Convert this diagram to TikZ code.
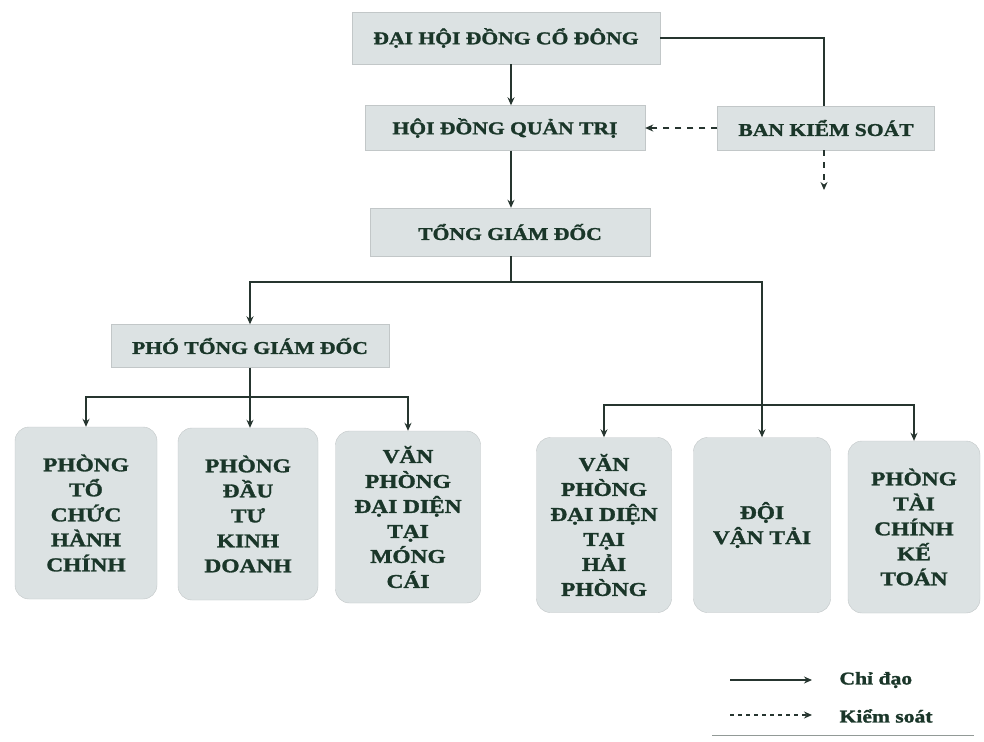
\documentclass[tikz,border=0pt]{standalone}
\usepackage{fontspec}
\setmainfont{Liberation Serif}[FakeStretch=1.2, BoldFeatures={FakeBold=1.5}]
\usetikzlibrary{arrows.meta,calc}
\definecolor{txt}{HTML}{1A3629}
\definecolor{boxfill}{HTML}{DCE2E3}
\definecolor{ln}{HTML}{26352F}
\tikzset{
  topbox/.style={fill=boxfill, draw=boxfill!88!black, line width=0.4pt, text=txt, font=\fontsize{18}{20}\selectfont\bfseries, inner sep=0pt},
  deptbox/.style={fill=boxfill, draw=boxfill!88!black, line width=0.4pt, rounded corners=14pt, text=txt, font=\fontsize{19.5}{25}\selectfont\bfseries, align=center, inner sep=0pt},
  arr/.style={draw=ln, line width=2pt, -{Stealth[length=8pt,width=7pt]}},
  plain/.style={draw=ln, line width=2pt},
  darr/.style={draw=ln, line width=2pt, dash pattern=on 6pt off 6pt, -{Stealth[length=8pt,width=7pt]}},
  legtext/.style={text=txt, font=\fontsize{18}{20}\selectfont\bfseries, anchor=west}
}
\begin{document}
\begin{tikzpicture}[x=1pt,y=-1pt]
\useasboundingbox[fill=white] (0,0) rectangle (984,741);
% top boxes
\node[topbox, minimum width=308pt, minimum height=52pt] (dh) at (506,38) {ĐẠI HỘI ĐỒNG CỔ ĐÔNG};
\node[topbox, minimum width=280pt, minimum height=45pt] (hd) at (505,128) {HỘI ĐỒNG QUẢN TRỊ};
\node[topbox, minimum width=217pt, minimum height=44pt] (bks) at (826,128) {BAN KIỂM SOÁT};
\node[topbox, minimum width=280pt, minimum height=48pt] (tgd) at (510,232) {TỔNG GIÁM ĐỐC};
\node[topbox, minimum width=278pt, minimum height=43pt] (ptgd) at (250,346) {PHÓ TỔNG GIÁM ĐỐC};
% departments
\node[deptbox, minimum width=142pt, minimum height=172pt] (b1) at (86,513) {PHÒNG\\TỔ\\CHỨC\\HÀNH\\CHÍNH};
\node[deptbox, minimum width=140pt, minimum height=172pt] (b2) at (248,514) {PHÒNG\\ĐẦU\\TƯ\\KINH\\DOANH};
\node[deptbox, minimum width=145pt, minimum height=172pt] (b3) at (408,517) {VĂN\\PHÒNG\\ĐẠI DIỆN\\TẠI\\MÓNG\\CÁI};
\node[deptbox, minimum width=135pt, minimum height=175pt] (b4) at (604,525) {VĂN\\PHÒNG\\ĐẠI DIỆN\\TẠI\\HẢI\\PHÒNG};
\node[deptbox, minimum width=137pt, minimum height=175pt] (b5) at (762,525) {ĐỘI\\VẬN TẢI};
\node[deptbox, minimum width=132pt, minimum height=172pt] (b6) at (914,527) {PHÒNG\\TÀI\\CHÍNH\\KẾ\\TOÁN};
% junctions
\coordinate (j1) at (511,282);
\coordinate (j2) at (250,397);
\coordinate (j3) at (762,405);
\coordinate (bksend) at (824,190);
% connectors
\draw[arr] (dh.south -| 511,0) -- (hd.north -| 511,0);
\draw[plain] (dh.east) -| (bksend |- bks.north);
\draw[darr] (bks.west) -- (hd.east);
\draw[darr] (bksend |- bks.south) -- (bksend);
\draw[arr] (hd.south -| 511,0) -- (tgd.north -| 511,0);
\draw[plain] (tgd.south -| j1) -- (j1);
\draw[arr] (j1) -| (ptgd.north);
\draw[arr] (j1) -| (b5.north);
\draw[plain] (ptgd.south) -- (j2);
\draw[arr] (j2) -| (b1.north);
\draw[arr] (j2) -- (j2 |- b2.north);
\draw[arr] (j2) -| (b3.north);
\draw[arr] (j3) -| (b4.north);
\draw[arr] (j3) -| (b6.north);
% legend
\coordinate (la1) at (730,680);
\coordinate (la2) at (812,680);
\coordinate (lb1) at (730,715);
\coordinate (lb2) at (812,715);
\draw[draw=ln, line width=1.6pt, -{Stealth[length=8pt,width=7pt]}] (la1) -- (la2);
\draw[draw=ln, line width=1.6pt, dash pattern=on 4pt off 4pt, -{Stealth[length=8pt,width=7pt]}] (lb1) -- (lb2);
\node[legtext] (lt1) at (836,680) {Chỉ đạo};
\node[legtext] (lt2) at (836,716) {Kiểm soát};
\coordinate (lu1) at (712,735);
\coordinate (lu2) at (974,735);
\draw[draw=ln!50, line width=0.8pt] (lu1) -- (lu2);
\end{tikzpicture}
\end{document}
